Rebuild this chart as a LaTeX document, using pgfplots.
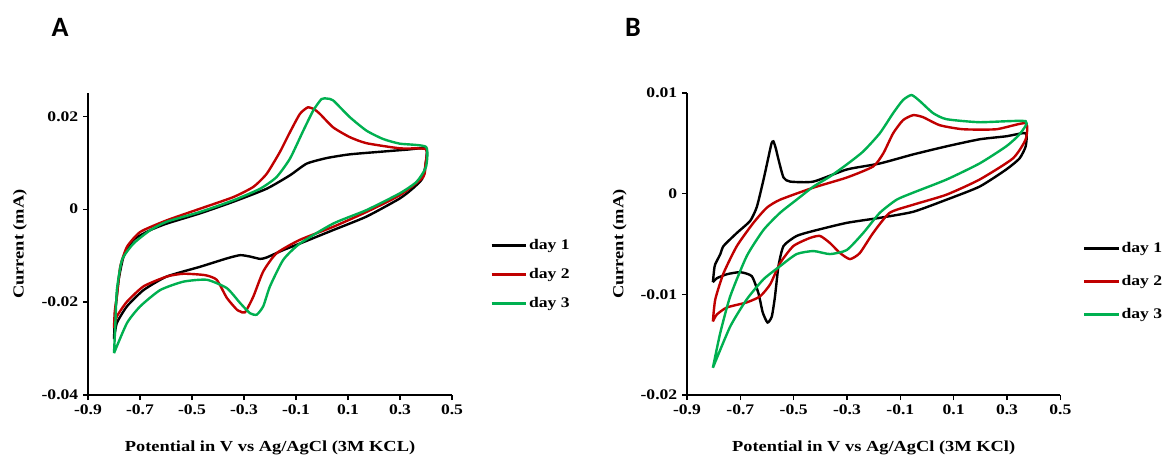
\documentclass[border=0pt]{standalone}
\usepackage{fontspec}
\setmainfont{Liberation Serif}[FakeStretch=1.2]
\newfontfamily\panelfont{Carlito}
\usepackage{pgfplots}
\pgfplotsset{compat=1.18}
\definecolor{cvred}{RGB}{192,0,0}
\definecolor{cvgreen}{RGB}{0,176,80}
\pgfplotsset{
  cvaxis/.style={
    scale only axis, anchor=south west,
    axis x line=bottom, axis y line=left,
    axis line style={-, line width=1pt},
    tick align=outside, major tick length=3.75pt,
    tick style={line width=0.9pt, black},
    xmin=-0.9, xmax=0.5,
    xtick={-0.9,-0.7,-0.5,-0.3,-0.1,0.1,0.3,0.5},
    minor tick num=0,
    scaled y ticks=false, scaled x ticks=false,
    tick label style={font=\fontsize{11}{13}\selectfont\bfseries},
    /pgf/number format/assume math mode=true,
    xticklabel style={/pgf/number format/fixed, /pgf/number format/precision=1},
    yticklabel style={/pgf/number format/fixed, /pgf/number format/precision=2},
    label style={font=\fontsize{11.5}{13}\selectfont\bfseries},
    ylabel={Current (mA)},
    xlabel style={at={(axis description cs:0.5,-0.175)}, anchor=center},
    legend style={draw=none, fill=none, font=\fontsize{11}{13}\selectfont\bfseries,
      anchor=north west, inner sep=0pt,
      nodes={inner sep=1pt}},
    legend cell align=left,
    legend image code/.code={\draw[#1, line width=2.2pt] (0pt,0pt) -- (26pt,0pt);},
    every axis plot/.append style={line width=1.8pt, smooth, tension=0.35},
  }
}
\begin{document}
\begin{tikzpicture}
\path[use as bounding box] (0,0) rectangle (873pt,346.5pt);
\node[font=\panelfont\fontsize{21}{21}\selectfont\bfseries] at (45pt,326.25pt) {A};
\node[font=\panelfont\fontsize{21}{21}\selectfont\bfseries] at (474.75pt,326.25pt) {B};
% Panel A
\begin{axis}[cvaxis, at={(66pt,50.25pt)}, width=273pt, height=226.5pt,
  ymin=-0.04, ymax=0.025, ytick={-0.04,-0.02,0,0.02},
  xlabel={Potential in V vs Ag/AgCl (3M KCL)},
  ylabel style={at={(axis description cs:-0.187,0.5)}, anchor=center, rotate=0},
  legend style={at={(1.104,0.52)}, row sep=10.4pt}]
\addplot[black] coordinates {(-0.8,-0.028) (-0.795,-0.022) (-0.782,-0.0152) (-0.763,-0.0102) (-0.725,-0.0066) (-0.66,-0.0045) (-0.597,-0.0031) (-0.469,-0.0009) (-0.341,0.0016) (-0.213,0.0044) (-0.123,0.0073) (-0.059,0.0098) (0.018,0.011) (0.107,0.0118) (0.235,0.0124) (0.325,0.0128) (0.4,0.013) (0.398,0.0095) (0.385,0.0065) (0.35,0.0045) (0.299,0.0023) (0.171,-0.0016) (0.043,-0.0045) (-0.085,-0.0074) (-0.149,-0.0088) (-0.213,-0.0104) (-0.238,-0.0107) (-0.277,-0.0102) (-0.315,-0.0099) (-0.366,-0.0106) (-0.469,-0.0124) (-0.597,-0.0145) (-0.686,-0.0174) (-0.75,-0.0209) (-0.789,-0.0245) (-0.8,-0.028)};
\addplot[cvred] coordinates {(-0.8,-0.0256) (-0.797,-0.022) (-0.789,-0.0188) (-0.776,-0.0124) (-0.75,-0.0081) (-0.699,-0.0049) (-0.597,-0.0024) (-0.469,0.0001) (-0.341,0.0026) (-0.264,0.0048) (-0.213,0.0076) (-0.162,0.0123) (-0.123,0.0166) (-0.085,0.0205) (-0.055,0.0219) (-0.03,0.0215) (-0.008,0.0205) (0.043,0.0176) (0.107,0.0155) (0.171,0.0142) (0.299,0.0131) (0.4,0.0129) (0.398,0.0098) (0.389,0.0069) (0.299,0.003) (0.171,-0.0006) (0.043,-0.0038) (-0.085,-0.0066) (-0.175,-0.0095) (-0.226,-0.0134) (-0.264,-0.0188) (-0.296,-0.0222) (-0.315,-0.022) (-0.328,-0.0216) (-0.366,-0.0191) (-0.405,-0.0152) (-0.45,-0.0142) (-0.533,-0.0139) (-0.597,-0.0145) (-0.686,-0.0166) (-0.75,-0.0199) (-0.789,-0.0231) (-0.8,-0.0256)};
\addplot[cvgreen] coordinates {(-0.8,-0.031) (-0.795,-0.025) (-0.789,-0.0174) (-0.769,-0.0109) (-0.725,-0.0074) (-0.66,-0.0045) (-0.597,-0.0027) (-0.469,-0.0006) (-0.341,0.0019) (-0.238,0.0044) (-0.175,0.0069) (-0.123,0.0109) (-0.072,0.0169) (-0.034,0.0212) (-0.002,0.0237) (0.02,0.0238) (0.043,0.0234) (0.107,0.0198) (0.171,0.0169) (0.235,0.0151) (0.299,0.0141) (0.4,0.0134) (0.4,0.0091) (0.364,0.0059) (0.299,0.0034) (0.171,-0.0002) (0.043,-0.0031) (-0.085,-0.0074) (-0.149,-0.0109) (-0.2,-0.0166) (-0.226,-0.0209) (-0.251,-0.0227) (-0.277,-0.0224) (-0.315,-0.0202) (-0.366,-0.017) (-0.443,-0.0152) (-0.533,-0.0156) (-0.622,-0.0174) (-0.699,-0.0209) (-0.75,-0.0245) (-0.8,-0.031)};
\legend{day 1, day 2, day 3}
\end{axis}
% Panel B
\begin{axis}[cvaxis, at={(515.25pt,50.25pt)}, width=280pt, height=226.5pt,
  ymin=-0.02, ymax=0.01, ytick={-0.02,-0.01,0,0.01},
  xlabel={Potential in V vs Ag/AgCl (3M KCl)},
  ylabel style={at={(axis description cs:-0.18,0.5)}, anchor=center, rotate=0},
  legend style={at={(1.059,0.51)}, row sep=13.4pt}]
\addplot[black] coordinates {(-0.803,-0.0088) (-0.798,-0.0075) (-0.794,-0.007) (-0.775,-0.006) (-0.763,-0.0052) (-0.713,-0.0039) (-0.663,-0.0027) (-0.638,-0.0013) (-0.613,0.0014) (-0.594,0.0037) (-0.583,0.005) (-0.576,0.0052) (-0.567,0.0045) (-0.557,0.0034) (-0.538,0.0016) (-0.513,0.0012) (-0.426,0.0012) (-0.301,0.0024) (-0.177,0.003) (-0.052,0.0039) (0.073,0.0047) (0.197,0.0054) (0.297,0.0057) (0.37,0.006) (0.37,0.0047) (0.347,0.0035) (0.297,0.0024) (0.197,0.0007) (0.073,-0.0006) (-0.052,-0.0018) (-0.177,-0.0024) (-0.301,-0.0029) (-0.426,-0.0037) (-0.489,-0.0042) (-0.538,-0.0052) (-0.557,-0.0072) (-0.57,-0.0102) (-0.582,-0.0122) (-0.598,-0.0128) (-0.616,-0.0118) (-0.632,-0.0099) (-0.657,-0.0082) (-0.7,-0.0078) (-0.75,-0.008) (-0.788,-0.0084) (-0.803,-0.0088)};
\addplot[cvred] coordinates {(-0.803,-0.0127) (-0.794,-0.0105) (-0.763,-0.0079) (-0.713,-0.0052) (-0.651,-0.0029) (-0.601,-0.0014) (-0.551,-0.0006) (-0.426,0.0006) (-0.301,0.0016) (-0.202,0.0027) (-0.164,0.004) (-0.127,0.006) (-0.09,0.0073) (-0.052,0.0078) (-0.015,0.0076) (0.048,0.0068) (0.135,0.0064) (0.26,0.0064) (0.37,0.007) (0.37,0.0054) (0.322,0.0035) (0.197,0.0014) (0.073,-0.0001) (-0.052,-0.0011) (-0.14,-0.0019) (-0.202,-0.0039) (-0.252,-0.0059) (-0.289,-0.0065) (-0.326,-0.0059) (-0.364,-0.0049) (-0.401,-0.0042) (-0.439,-0.0044) (-0.501,-0.0052) (-0.551,-0.0069) (-0.588,-0.009) (-0.626,-0.0102) (-0.676,-0.0108) (-0.75,-0.0113) (-0.788,-0.012) (-0.803,-0.0127)};
\addplot[cvgreen] coordinates {(-0.803,-0.0173) (-0.775,-0.0138) (-0.738,-0.0102) (-0.676,-0.0062) (-0.613,-0.0036) (-0.551,-0.0019) (-0.489,-0.0006) (-0.426,0.0007) (-0.364,0.0017) (-0.301,0.0029) (-0.239,0.0042) (-0.177,0.006) (-0.127,0.008) (-0.09,0.0093) (-0.058,0.0098) (-0.027,0.0092) (0.023,0.008) (0.073,0.0074) (0.197,0.0071) (0.37,0.0072) (0.347,0.0059) (0.297,0.0047) (0.197,0.003) (0.073,0.0014) (-0.052,0.0001) (-0.114,-0.0006) (-0.177,-0.0019) (-0.239,-0.0039) (-0.301,-0.0056) (-0.364,-0.006) (-0.426,-0.0057) (-0.489,-0.006) (-0.551,-0.0072) (-0.613,-0.0085) (-0.676,-0.0105) (-0.738,-0.0132) (-0.803,-0.0173)};
\legend{day 1, day 2, day 3}
\end{axis}
\end{tikzpicture}
\end{document}
